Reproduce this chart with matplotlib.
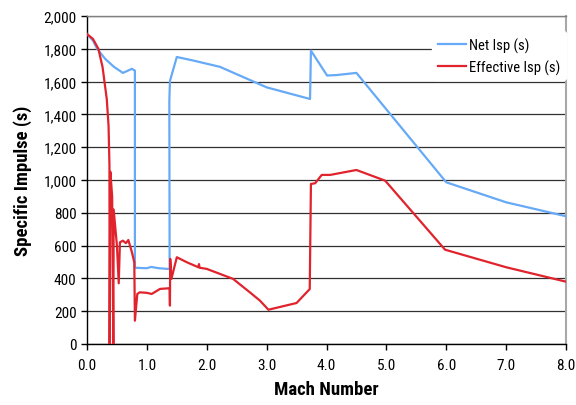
import matplotlib
matplotlib.use("Agg")
import matplotlib.pyplot as plt
from matplotlib.ticker import FuncFormatter

# ---- data ----
net_mach = [0.0, 0.1, 0.17, 0.3, 0.45, 0.6, 0.75, 0.8, 0.8, 1.0, 1.07, 1.2, 1.38,
            1.375, 1.385, 1.39, 1.5, 1.78, 2.22, 3.0, 3.725, 3.74, 4.01, 4.17, 4.5,
            6.0, 7.0, 8.0]
net_isp = [1890, 1850, 1800, 1740, 1690, 1653, 1678, 1667, 465, 462, 470, 462, 457,
           1480, 1600, 1610, 1750, 1728, 1690, 1565, 1494, 1789, 1637, 1640, 1653,
           986, 864, 779]

eff_mach = [0.0, 0.1, 0.19, 0.26, 0.33, 0.36, 0.375, 0.378, 0.39, 0.42, 0.44, 0.445,
            0.5, 0.53, 0.55, 0.6, 0.65, 0.69, 0.75, 0.79, 0.80, 0.84, 0.88, 1.0,
            1.08, 1.22, 1.38, 1.385, 1.39, 1.41, 1.5, 1.67, 1.86, 1.87, 1.88, 2.0,
            2.44, 2.72, 2.89, 3.03, 3.5, 3.72, 3.74, 3.81, 3.92, 4.06, 4.5, 4.98,
            5.98, 7.0, 8.0]
eff_isp = [1890, 1860, 1800, 1688, 1494, 1330, 1090, 0, 1050, 900, 0, 820,
           600, 370, 620, 630, 615, 634, 560, 498, 142, 305, 315, 312,
           305, 336, 340, 234, 519, 397, 529, 498, 468, 487, 465, 458,
           397, 315, 264, 209, 250, 335, 976, 980, 1031, 1031, 1061, 996,
           575, 468, 380]

x_ticks = [0, 1, 2, 3, 4, 5, 6, 7, 8]
y_ticks = list(range(0, 2001, 200))

plt.rcParams['font.family'] = ['Roboto Condensed', 'Archivo Narrow', 'DejaVu Sans']

fig = plt.figure(figsize=(5.76, 4.06), dpi=100)
ax = fig.add_axes([87/576, 1 - 345/406, (566-87)/576, (345-17)/406])

ax.plot(net_mach, net_isp, color='#66aaf7', lw=1.6, label='Net Isp (s)', zorder=3)
ax.plot(eff_mach, eff_isp, color='#e0232c', lw=1.6, label='Effective Isp (s)', zorder=3)

ax.set_xlim(0, 8)
ax.set_ylim(0, 2000)
ax.set_xticks(x_ticks)
ax.set_yticks(y_ticks)
ax.xaxis.set_major_formatter(FuncFormatter(lambda v, p: f"{v:.1f}"))
ax.yaxis.set_major_formatter(FuncFormatter(lambda v, p: f"{int(v):,}"))
ax.tick_params(axis='both', direction='out', length=4, width=1, labelsize=11, colors='black')
ax.tick_params(axis='x', pad=6)
ax.yaxis.grid(True, color='#303030', lw=0.9)
ax.set_axisbelow(True)

for s in ['left', 'bottom']:
    ax.spines[s].set_color('black')
    ax.spines[s].set_linewidth(1.0)
ax.spines['right'].set_color('#a8a8a8')
ax.spines['right'].set_linewidth(1.5)
ax.spines['top'].set_color('#808080')
ax.spines['top'].set_linewidth(1.0)

ax.set_xlabel('Mach Number', fontsize=13.5, fontweight='bold', labelpad=6)
ax.set_ylabel('Specific Impulse (s)', fontsize=13.5, fontweight='bold', labelpad=8)

leg = ax.legend(loc='upper left', bbox_to_anchor=(0.705, 0.975), frameon=True,
                fontsize=10.5, handlelength=1.9, handletextpad=0.25, borderpad=0.4,
                labelspacing=0.45)
leg.get_frame().set_edgecolor('white')
leg.get_frame().set_facecolor('white')
leg.get_frame().set_alpha(1)

fig.savefig('out.png', dpi=100)
